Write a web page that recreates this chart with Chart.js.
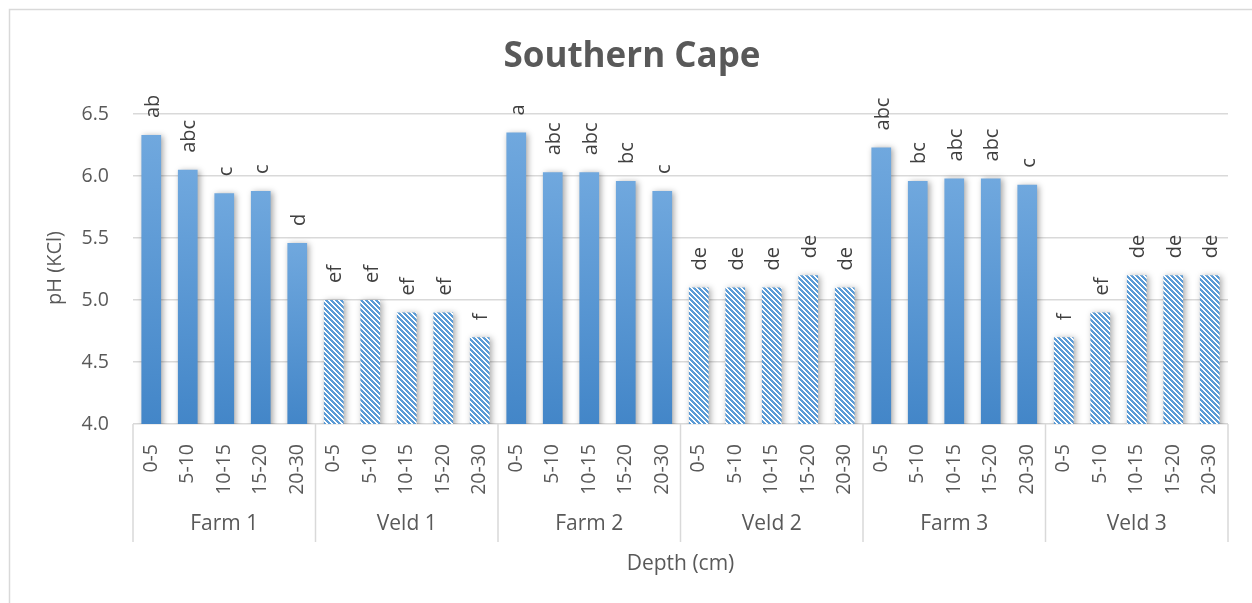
<!DOCTYPE html>
<html>
<head>
<meta charset="utf-8">
<script src="https://cdn.jsdelivr.net/npm/chart.js@4/dist/chart.umd.min.js"></script>
<style>
  html, body { margin: 0; padding: 0; background: #ffffff; }
  #wrap { position: relative; width: 1252px; height: 603px; }
</style>
</head>
<body>
<div id="wrap"><canvas id="c" width="1252" height="603"></canvas></div>
<script>
// ---- data ----
const chartTitle = 'Southern Cape';
const yAxisTitle = 'pH (KCl)';
const xAxisTitle = 'Depth (cm)';
const groups = ['Farm 1', 'Veld 1', 'Farm 2', 'Veld 2', 'Farm 3', 'Veld 3'];
const depths = ['0-5', '5-10', '10-15', '15-20', '20-30'];
const yTicks = [4.0, 4.5, 5.0, 5.5, 6.0, 6.5];

const farm1 = [6.33, 6.05, 5.86, 5.88, 5.46];
const veld1 = [5.0, 5.0, 4.9, 4.9, 4.7];
const farm2 = [6.35, 6.03, 6.03, 5.96, 5.88];
const veld2 = [5.1, 5.1, 5.1, 5.2, 5.1];
const farm3 = [6.23, 5.96, 5.98, 5.98, 5.93];
const veld3 = [4.7, 4.9, 5.2, 5.2, 5.2];

const farm1Letters = ['ab', 'abc', 'c', 'c', 'd'];
const veld1Letters = ['ef', 'ef', 'ef', 'ef', 'f'];
const farm2Letters = ['a', 'abc', 'abc', 'bc', 'c'];
const veld2Letters = ['de', 'de', 'de', 'de', 'de'];
const farm3Letters = ['abc', 'bc', 'abc', 'abc', 'c'];
const veld3Letters = ['f', 'ef', 'de', 'de', 'de'];

// ---- derived ----
const groupValues = [farm1, veld1, farm2, veld2, farm3, veld3];
const groupLetters = [farm1Letters, veld1Letters, farm2Letters, veld2Letters, farm3Letters, veld3Letters];
const labels = groups.flatMap(() => depths);
const values = groupValues.flat();
const letters = groupLetters.flat();
const isVeld = groups.flatMap(g => depths.map(() => g.startsWith('Veld')));

const FONT = "'Open Sans', 'Noto Sans', sans-serif";
const TXT = '#595959';

// hatch pattern
const P = 5;
const pc = document.createElement('canvas');
pc.width = P; pc.height = P;
const pctx = pc.getContext('2d');
pctx.fillStyle = '#ffffff';
pctx.fillRect(0, 0, P, P);
pctx.fillStyle = '#5b9bd5';
for (let y = 0; y < P; y++) for (let x = 0; x < P; x++) {
  const d = ((x - y) % P + P) % P;
  if (d <= 2) pctx.fillRect(x, y, 1, 1);
}
let hatch = null;

function barFill(ctx) {
  const chart = ctx.chart;
  const i = ctx.dataIndex;
  if (isVeld[i]) {
    if (!hatch) hatch = chart.ctx.createPattern(pc, 'repeat');
    return hatch;
  }
  const ys = chart.scales.y;
  if (!ys || !chart.chartArea) return '#5b9bd5';
  const top = ys.getPixelForValue(values[i]);
  const bot = ys.getPixelForValue(ys.min);
  const g = chart.ctx.createLinearGradient(0, top, 0, bot);
  g.addColorStop(0, '#70a8de');
  g.addColorStop(1, '#4386c8');
  return g;
}

const decor = {
  id: 'decor',
  beforeDraw(chart) {
    const c = chart.ctx;
    c.save();
    c.strokeStyle = '#d9d9d9';
    c.lineWidth = 1.5;
    c.beginPath();
    c.moveTo(9.5, 603);
    c.lineTo(9.5, 9.5);
    c.lineTo(1252, 9.5);
    c.stroke();
    c.restore();
  },
  beforeDatasetsDraw(chart) {
    const c = chart.ctx;
    c.save();
    c.shadowColor = 'rgba(0,0,0,0.35)';
    c.shadowBlur = 6;
    c.shadowOffsetX = 2;
    c.shadowOffsetY = 1;
  },
  afterDatasetsDraw(chart) {
    chart.ctx.restore();
  },
  afterDraw(chart) {
    const c = chart.ctx;
    const xs = chart.scales.x;
    const ys = chart.scales.y;
    const area = chart.chartArea;
    c.save();
    // title
    c.fillStyle = TXT;
    c.font = "bold 35px " + FONT;
    c.textAlign = 'center';
    c.textBaseline = 'middle';
    c.fillText(chartTitle, 632, 57);
    // y title
    c.save();
    c.translate(55, 268);
    c.rotate(-Math.PI / 2);
    c.font = "20px " + FONT;
    c.fillText(yAxisTitle, 0, 0);
    c.restore();
    // group separators and labels
    const n = depths.length;
    const step = (xs.getPixelForValue(1) - xs.getPixelForValue(0));
    c.strokeStyle = '#d9d9d9';
    c.lineWidth = 1.5;
    for (let gi = 0; gi <= groups.length; gi++) {
      const x = xs.getPixelForValue(gi * n) - step / 2;
      c.beginPath();
      c.moveTo(x, area.bottom);
      c.lineTo(x, 542);
      c.stroke();
    }
    c.font = "21px " + FONT;
    c.fillStyle = TXT;
    groups.forEach((g, gi) => {
      const x0 = xs.getPixelForValue(gi * n) - step / 2;
      const x1 = xs.getPixelForValue(gi * n + n - 1) + step / 2;
      c.fillText(g, (x0 + x1) / 2, 524);
    });
    // x title
    c.fillText(xAxisTitle, (area.left + area.right) / 2, 564);
    // data letters
    c.fillStyle = '#404040';
    c.font = "20px " + FONT;
    c.textAlign = 'left';
    c.textBaseline = 'middle';
    values.forEach((v, i) => {
      const x = xs.getPixelForValue(i);
      const y = ys.getPixelForValue(v);
      c.save();
      c.translate(x + 2, y - 17);
      c.rotate(-Math.PI / 2);
      c.fillText(letters[i], 0, 0);
      c.restore();
    });
    c.restore();
  }
};

new Chart(document.getElementById('c'), {
  type: 'bar',
  data: {
    labels: labels,
    datasets: [{
      data: values,
      backgroundColor: barFill,
      borderWidth: 0,
      barPercentage: 0.54,
      categoryPercentage: 1.0
    }]
  },
  options: {
    responsive: false,
    animation: false,
    devicePixelRatio: 1,
    layout: { padding: { left: 20, right: 24, top: 114, bottom: 0 } },
    plugins: { legend: { display: false }, tooltip: { enabled: false }, title: { display: false } },
    scales: {
      x: {
        grid: { display: false },
        border: { display: false },
        ticks: {
          color: TXT,
          font: { family: FONT, size: 19.5 },
          minRotation: 90,
          maxRotation: 90,
          padding: 12,
          autoSkip: false
        },
        afterFit(scale) { scale.height = 179; }
      },
      y: {
        min: 4,
        max: 6.5,
        grid: { color: '#d9d9d9', lineWidth: 1.5, drawTicks: false },
        border: { display: false },
        afterBuildTicks(scale) { scale.ticks = yTicks.map(v => ({ value: v })); },
        ticks: {
          color: TXT,
          font: { family: FONT, size: 19.5 },
          padding: 24,
          callback: v => Number(v).toFixed(1)
        },
        afterFit(scale) { scale.width = 113; }
      }
    }
  },
  plugins: [decor]
});
</script>
</body>
</html>
